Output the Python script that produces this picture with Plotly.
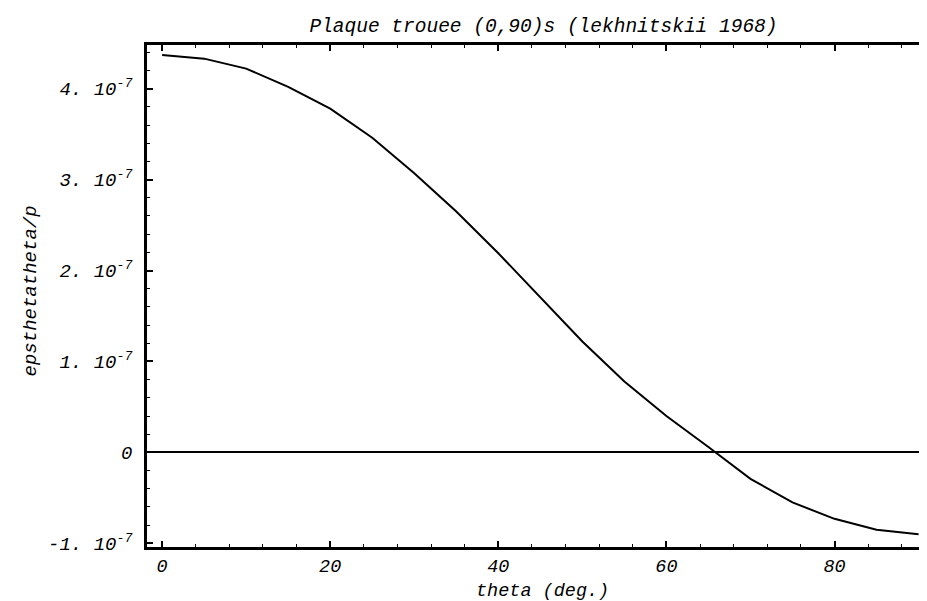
import plotly.graph_objects as go

# Data (theta in degrees, eps/p in units of 1e-7)
theta = [0, 5, 10, 15, 20, 25, 30, 35, 40, 45, 50, 55, 60, 65, 70, 75, 80, 85, 90]
eps_e7 = [4.37, 4.33, 4.22, 4.02, 3.78, 3.46, 3.07, 2.65, 2.19, 1.71, 1.22, 0.78, 0.40,
          0.06, -0.29, -0.55, -0.73, -0.85, -0.90]
eps = [v * 1e-7 for v in eps_e7]

x_ticks = [0, 20, 40, 60, 80]
y_tick_vals = [-1e-7, 0, 1e-7, 2e-7, 3e-7, 4e-7]
y_tick_text = ["-1. 10<sup>-7</sup>", "0", "1. 10<sup>-7</sup>", "2. 10<sup>-7</sup>",
               "3. 10<sup>-7</sup>", "4. 10<sup>-7</sup>"]

title_text = "Plaque trouee (0,90)s (lekhnitskii 1968)"
x_title = "theta (deg.)"
y_title = "epsthetatheta/p"

FONT = "Liberation Mono, Courier New, monospace"

fig = go.Figure()
fig.add_trace(go.Scatter(x=theta, y=eps, mode="lines",
                         line=dict(color="black", width=2), showlegend=False,
                         hoverinfo="skip"))

W, H = 927, 601
L, R, T, B = 139, 0, 37, 62
PW, PH = W - L - R, H - T - B

fig.update_layout(
    width=W, height=H,
    margin=dict(l=L, r=R, t=T, b=B),
    paper_bgcolor="white", plot_bgcolor="white",
    font=dict(family=FONT, size=19, color="black", style="italic"),
    title=dict(text=title_text, x=(537 - L) / PW, xref="paper", xanchor="center",
               y=1 - 17 / H, yref="container", yanchor="middle",
               font=dict(family=FONT, size=19.5, color="black", style="italic")),
)

fig.update_xaxes(
    range=[-1.8, 91.6], showgrid=False, zeroline=False,
    showline=True, linecolor="black", linewidth=2.5, mirror="ticks",
    ticks="inside", ticklen=6, tickwidth=1.5, tickcolor="black",
    tickvals=x_ticks, ticktext=[str(v) for v in x_ticks], ticklabelstandoff=0,
    tickfont=dict(family=FONT, size=18.5, color="black", style="italic"),
    minor=dict(ticks="inside", ticklen=3, tickwidth=1, tickcolor="black", dtick=4, tick0=0),
)
fig.update_yaxes(
    range=[-1.04e-7, 4.48e-7], showgrid=False,
    zeroline=True, zerolinecolor="black", zerolinewidth=2,
    showline=True, linecolor="black", linewidth=2.5, mirror="ticks",
    ticks="inside", ticklen=6, tickwidth=1.5, tickcolor="black",
    tickvals=y_tick_vals, ticktext=y_tick_text, ticklabelstandoff=8,
    tickfont=dict(family=FONT, size=19, color="black", style="italic"),
    minor=dict(ticks="inside", ticklen=3, tickwidth=1, tickcolor="black", dtick=0.2e-7, tick0=0),
)

fig.add_annotation(text=x_title, xref="paper", yref="paper",
                   x=(536 - L) / PW, y=-(583 - (H - B)) / PH,
                   xanchor="center", yanchor="middle", showarrow=False,
                   font=dict(family=FONT, size=18.5, color="black", style="italic"))
fig.add_annotation(text=y_title, xref="paper", yref="paper",
                   x=-(L - 23) / PW, y=1 - (283 - T) / PH,
                   xanchor="center", yanchor="middle", showarrow=False, textangle=-90,
                   font=dict(family=FONT, size=19, color="black", style="italic"))

fig.write_html("out.html")
